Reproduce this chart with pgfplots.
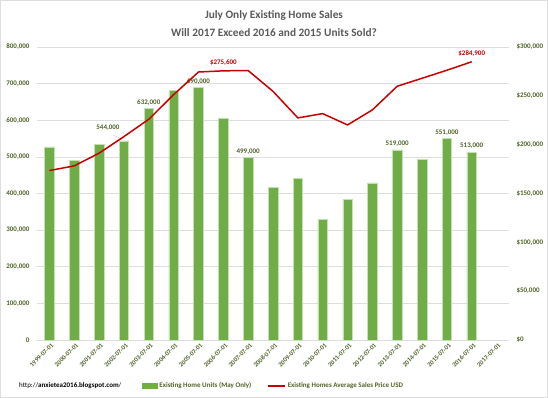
\documentclass[border=0pt]{standalone}
\usepackage{pgfplots}
\pgfplotsset{compat=1.18}
\usepackage{pgfplotstable}
\usepackage{fontspec}
\setmainfont{Carlito}
\definecolor{barg}{RGB}{112,173,71}
\definecolor{baredge}{RGB}{197,224,180}
\definecolor{lineR}{RGB}{200,0,0}
\definecolor{tickg}{RGB}{79,98,40}
\definecolor{titleg}{RGB}{89,89,89}
\definecolor{gridc}{RGB}{222,222,222}

\pgfplotstableread{
x y
0 527000
1 491000
2 534000
3 544000
4 632000
5 681000
6 690000
7 605000
8 499000
9 417000
10 441000
11 330000
12 384000
13 429000
14 519000
15 493000
16 551000
17 513000
}\units

\pgfplotstableread{
x y lab
4 632000 632,000
6 690000 690,000
8 499000 499,000
14 519000 519,000
16 551000 551,000
17 513000 513,000
}\unitlabels

\pgfplotstableread{
x y
0 173500
1 178300
2 191300
3 208300
4 226000
5 251200
6 274400
7 275600
8 275900
9 254600
10 227400
11 231800
12 220200
13 235600
14 259800
15 268000
16 276200
17 284900
}\price

\begin{document}
\begin{tikzpicture}
\useasboundingbox (0pt,0pt) rectangle (548pt,398pt);
\draw[gridc, line width=0.8pt] (0.4pt,0.4pt) rectangle (547.6pt,397.6pt);
\node[font=\fontsize{11.3}{13}\selectfont\bfseries, text=titleg] at (274pt,383pt) {July Only Existing Home Sales};
\node[font=\fontsize{11.3}{13}\selectfont\bfseries, text=titleg] at (274pt,365pt) {Will 2017 Exceed 2016 and 2015 Units Sold?};
\node[font=\fontsize{7}{8}\selectfont, anchor=west, inner sep=0pt] at (19pt,12pt) {http://\textbf{anxietea2016.blogspot.com}/};

\begin{axis}[
  at={(37pt,58pt)}, anchor=south west,
  scale only axis, width=472pt, height=293pt,
  xmin=-0.5, xmax=18.5, ymin=0, ymax=800000,
  scaled y ticks=false,
  separate axis lines,
  axis x line*=bottom, axis y line*=left,
  y axis line style={draw=none},
  x axis line style={gridc, line width=0.8pt, -},
  major tick length=0pt,
  ytick={0,100000,200000,300000,400000,500000,600000,700000,800000},
  yticklabels={0,{100,000},{200,000},{300,000},{400,000},{500,000},{600,000},{700,000},{800,000}},
  xtick={0,...,18},
  xticklabels={1999-07-01,2000-07-01,2001-07-01,2002-07-01,2003-07-01,2004-07-01,2005-07-01,2006-07-01,2007-07-01,2008-07-01,2009-07-01,2010-07-01,2011-07-01,2012-07-01,2013-07-01,2014-07-01,2015-07-01,2016-07-01,2017-07-01},
  x tick label style={rotate=45, anchor=north east, font=\fontsize{6.5}{7}\selectfont\bfseries, text=tickg, inner sep=1pt, yshift=-2pt},
  y tick label style={font=\fontsize{7}{8}\selectfont\bfseries, text=tickg, xshift=-4pt},
  ymajorgrids, grid style={gridc, line width=0.6pt},
  clip=false,
]
\addplot[ybar, bar width=9.5pt, fill=barg, draw=baredge, line width=0.5pt] table[x=x,y=y] {\units};
\addplot[draw=none, mark=none, nodes near coords, point meta=explicit symbolic,
  nodes near coords style={font=\fontsize{7}{8}\selectfont\bfseries, text=tickg, anchor=south, inner sep=2pt, yshift=1pt}]
  table[x=x,y=y,meta=lab] {\unitlabels};
\addplot[draw=none, mark=none, nodes near coords, point meta=explicit symbolic,
  nodes near coords style={font=\fontsize{7}{8}\selectfont\bfseries, text=tickg, anchor=center, xshift=-16pt, yshift=13pt}]
  coordinates {(3,544000) [544,000]};
\draw[gray!50, line width=0.4pt] (axis cs:2.56,560000) -- (axis cs:2.92,548000);
\end{axis}

\begin{axis}[
  at={(37pt,58pt)}, anchor=south west,
  scale only axis, width=472pt, height=293pt,
  xmin=-0.5, xmax=18.5, ymin=0, ymax=300000,
  scaled y ticks=false,
  axis x line=none,
  axis y line*=right,
  y axis line style={draw=none},
  major tick length=0pt,
  ytick={0,50000,100000,150000,200000,250000,300000},
  yticklabels={\$0,{\$50,000},{\$100,000},{\$150,000},{\$200,000},{\$250,000},{\$300,000}},
  y tick label style={font=\fontsize{7}{8}\selectfont\bfseries, text=tickg, xshift=4pt},
  clip=false,
  legend style={at={(0.2225,-0.157)}, anchor=west, draw=none, fill=none,
    legend columns=2, font=\fontsize{7}{8}\selectfont\bfseries, text=tickg,
    /tikz/every even column/.append style={column sep=14pt},
    inner sep=0pt, outer sep=0pt},
  legend cell align=left,
]
\addlegendimage{legend image code/.code={\fill[barg] (0pt,-2.3pt) rectangle (15pt,2.3pt);}}
\addlegendentry{Existing Home Units (May Only)}
\addlegendimage{legend image code/.code={\draw[lineR, line width=1.5pt] (0pt,0pt) -- (17pt,0pt);}}
\addlegendentry{Existing Homes Average Sales Price USD}
\addplot[lineR, line width=1.5pt, mark=none, forget plot] table[x=x,y=y] {\price};
\addplot[draw=none, mark=none, forget plot, nodes near coords, point meta=explicit symbolic,
  nodes near coords style={font=\fontsize{7}{8}\selectfont\bfseries, text=lineR, anchor=south, inner sep=2pt, yshift=3pt}]
  coordinates {(7,275600) [\$275,600] (17,284900) [\$284,900]};
\end{axis}
\end{tikzpicture}
\end{document}
